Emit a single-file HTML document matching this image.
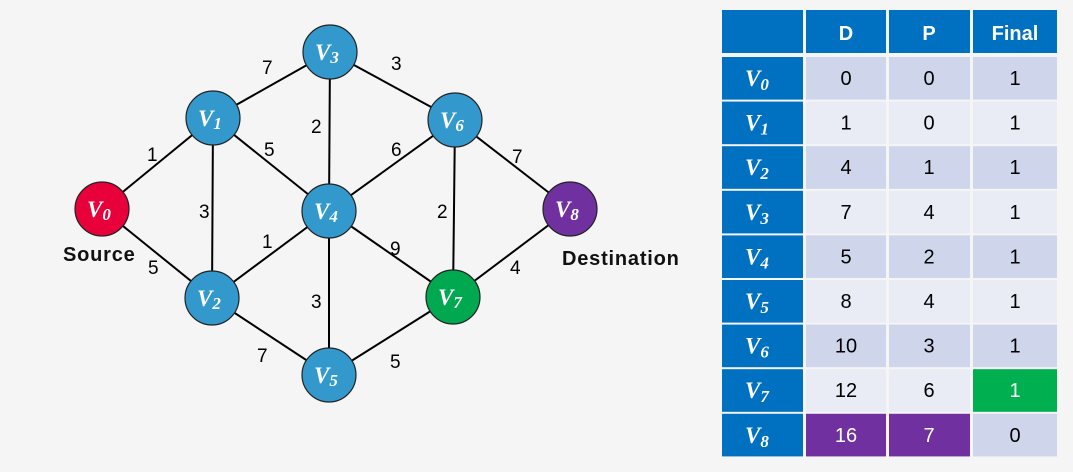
<!DOCTYPE html>
<html><head><meta charset="utf-8"><style>
html,body{margin:0;padding:0;background:#f5f5f5;}
svg{display:block;}
.n{font-family:"Liberation Serif",serif;font-style:italic;font-weight:bold;fill:#fff;}
.l{font-family:"Liberation Sans",sans-serif;font-size:19px;fill:#000;}
.b{font-family:"Liberation Sans",sans-serif;font-size:20px;font-weight:bold;fill:#111;letter-spacing:0.8px;}
.t{font-family:"Liberation Sans",sans-serif;font-size:20px;text-anchor:middle;fill:#000;}
.w{fill:#fff;font-weight:bold;}
</style></head><body>
<svg width="1073" height="472" viewBox="0 0 1073 472">
<rect width="1073" height="472" fill="#f5f5f5"/>
<g stroke="#000" stroke-width="2">
<line x1="102" y1="209" x2="213" y2="118"/>
<line x1="102" y1="209" x2="212" y2="298"/>
<line x1="213" y1="118" x2="330" y2="52"/>
<line x1="213" y1="118" x2="212" y2="298"/>
<line x1="213" y1="118" x2="329" y2="211"/>
<line x1="330" y1="52" x2="329" y2="211"/>
<line x1="330" y1="52" x2="455" y2="120"/>
<line x1="455" y1="120" x2="329" y2="211"/>
<line x1="455" y1="120" x2="453" y2="297"/>
<line x1="455" y1="120" x2="570" y2="209"/>
<line x1="212" y1="298" x2="329" y2="211"/>
<line x1="212" y1="298" x2="329" y2="375"/>
<line x1="329" y1="211" x2="329" y2="375"/>
<line x1="329" y1="211" x2="453" y2="297"/>
<line x1="329" y1="375" x2="453" y2="297"/>
<line x1="453" y1="297" x2="570" y2="209"/>
</g>
<g stroke="#222" stroke-width="1.2">
<circle cx="102" cy="209" r="27" fill="#E8003A"/>
<circle cx="213" cy="118" r="27" fill="#3399CC"/>
<circle cx="330" cy="52" r="27" fill="#3399CC"/>
<circle cx="212" cy="298" r="27" fill="#3399CC"/>
<circle cx="329" cy="211" r="27" fill="#3399CC"/>
<circle cx="329" cy="375" r="27" fill="#3399CC"/>
<circle cx="455" cy="120" r="27" fill="#3399CC"/>
<circle cx="453" cy="297" r="27" fill="#00A850"/>
<circle cx="570" cy="209" r="27" fill="#7030A0"/>
</g>
<g class="n" font-size="23">
<text x="87" y="217">V<tspan font-size="17" dy="3">0</tspan></text>
<text x="198" y="126">V<tspan font-size="17" dy="3">1</tspan></text>
<text x="315" y="60">V<tspan font-size="17" dy="3">3</tspan></text>
<text x="197" y="306">V<tspan font-size="17" dy="3">2</tspan></text>
<text x="314" y="219">V<tspan font-size="17" dy="3">4</tspan></text>
<text x="314" y="383">V<tspan font-size="17" dy="3">5</tspan></text>
<text x="440" y="128">V<tspan font-size="17" dy="3">6</tspan></text>
<text x="438" y="305">V<tspan font-size="17" dy="3">7</tspan></text>
<text x="555" y="217">V<tspan font-size="17" dy="3">8</tspan></text>
</g>
<g class="l">
<text x="147" y="161">1</text>
<text x="148" y="274">5</text>
<text x="199" y="218">3</text>
<text x="262" y="74">7</text>
<text x="264" y="156">5</text>
<text x="311" y="133">2</text>
<text x="391" y="70">3</text>
<text x="391" y="156">6</text>
<text x="262" y="248">1</text>
<text x="437" y="218">2</text>
<text x="512" y="163">7</text>
<text x="311" y="308">3</text>
<text x="390" y="255">9</text>
<text x="510" y="274">4</text>
<text x="257" y="362">7</text>
<text x="390" y="368">5</text>
</g>
<text class="b" x="63" y="261">Source</text>
<text class="b" x="562" y="265">Destination</text>

<rect x="722" y="10" width="81" height="43" fill="#0070C0"/>
<rect x="806" y="10" width="80" height="43" fill="#0070C0"/>
<rect x="889" y="10" width="81" height="43" fill="#0070C0"/>
<rect x="973" y="10" width="84" height="43" fill="#0070C0"/>
<text class="t w" x="846" y="40">D</text>
<text class="t w" x="929" y="40">P</text>
<text class="t w" x="1015" y="40">Final</text>

<g fill="#0070C0">
<rect x="722" y="57" width="81" height="42.6"/>
<rect x="722" y="101.6" width="81" height="42.6"/>
<rect x="722" y="146.2" width="81" height="42.6"/>
<rect x="722" y="190.8" width="81" height="42.6"/>
<rect x="722" y="235.4" width="81" height="42.6"/>
<rect x="722" y="280" width="81" height="42.6"/>
<rect x="722" y="324.6" width="81" height="42.6"/>
<rect x="722" y="369.2" width="81" height="42.6"/>
<rect x="722" y="413.8" width="81" height="42.6"/>
</g>
<g>
<rect x="806" y="57" width="251" height="42.6" fill="#CFD5EA"/>
<rect x="806" y="101.6" width="251" height="42.6" fill="#E9EBF5"/>
<rect x="806" y="146.2" width="251" height="42.6" fill="#CFD5EA"/>
<rect x="806" y="190.8" width="251" height="42.6" fill="#E9EBF5"/>
<rect x="806" y="235.4" width="251" height="42.6" fill="#CFD5EA"/>
<rect x="806" y="280" width="251" height="42.6" fill="#E9EBF5"/>
<rect x="806" y="324.6" width="251" height="42.6" fill="#CFD5EA"/>
<rect x="806" y="369.2" width="251" height="42.6" fill="#E9EBF5"/>
<rect x="806" y="413.8" width="251" height="42.6" fill="#CFD5EA"/>
<rect x="973" y="369.2" width="84" height="42.6" fill="#00B050"/>
<rect x="806" y="413.8" width="164" height="42.6" fill="#7030A0"/>
<rect x="886" y="57" width="3" height="400" fill="#f5f5f5"/>
<rect x="970" y="57" width="3" height="400" fill="#f5f5f5"/>
</g>
<g class="n" font-size="23">
<text x="745" y="86">V<tspan font-size="17" dy="4">0</tspan></text>
<text x="745" y="130.6">V<tspan font-size="17" dy="4">1</tspan></text>
<text x="745" y="175.2">V<tspan font-size="17" dy="4">2</tspan></text>
<text x="745" y="219.8">V<tspan font-size="17" dy="4">3</tspan></text>
<text x="745" y="264.4">V<tspan font-size="17" dy="4">4</tspan></text>
<text x="745" y="309">V<tspan font-size="17" dy="4">5</tspan></text>
<text x="745" y="353.6">V<tspan font-size="17" dy="4">6</tspan></text>
<text x="745" y="398.2">V<tspan font-size="17" dy="4">7</tspan></text>
<text x="745" y="442.8">V<tspan font-size="17" dy="4">8</tspan></text>
</g>
<g class="t">
<text x="846" y="85">0</text><text x="929" y="85">0</text><text x="1015" y="85">1</text>
<text x="846" y="129.6">1</text><text x="929" y="129.6">0</text><text x="1015" y="129.6">1</text>
<text x="846" y="174.2">4</text><text x="929" y="174.2">1</text><text x="1015" y="174.2">1</text>
<text x="846" y="218.8">7</text><text x="929" y="218.8">4</text><text x="1015" y="218.8">1</text>
<text x="846" y="263.4">5</text><text x="929" y="263.4">2</text><text x="1015" y="263.4">1</text>
<text x="846" y="308">8</text><text x="929" y="308">4</text><text x="1015" y="308">1</text>
<text x="846" y="352.6">10</text><text x="929" y="352.6">3</text><text x="1015" y="352.6">1</text>
<text x="846" y="397.2">12</text><text x="929" y="397.2">6</text><text x="1015" y="397.2" fill="#fff">1</text>
<text x="846" y="441.8" fill="#fff">16</text><text x="929" y="441.8" fill="#fff">7</text><text x="1015" y="441.8">0</text>
</g>
</svg>
</body></html>
